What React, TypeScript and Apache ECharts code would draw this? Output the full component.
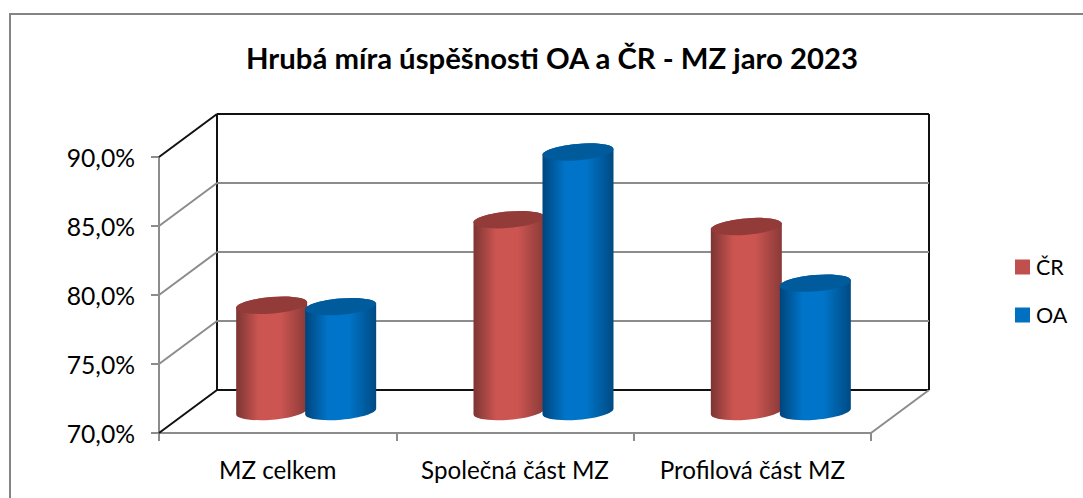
import React, { useEffect, useRef } from "react";
import * as echarts from "echarts";

const titleText = "Hrubá míra úspěšnosti OA a ČR - MZ jaro 2023";
const categories = ["MZ celkem", "Společná část MZ", "Profilová část MZ"];
const crValues = [77.7, 83.9, 83.4];
const oaValues = [77.6, 88.8, 79.3];
const yTicks = [70, 75, 80, 85, 90];

const FONT = "Lato, Carlito, Calibri, sans-serif";
const DX = 58;
const DY = -43;
const GRAY = "#8c8c8c";
const BLACK = "#111111";
const HALF_W = 35.5;
const TILT = 3;
const RY = 8.2;
const K = 0.5523;
const MAJOR = Math.sqrt(HALF_W * HALF_W + TILT * TILT);
const UX = HALF_W;
const UY = -TILT;
const VX = (RY * TILT) / MAJOR;
const VY = (RY * HALF_W) / MAJOR;

const fmt = (x: number, y: number) => `${x.toFixed(2)} ${y.toFixed(2)}`;

// From the left end of the tilted ellipse to its right end, through the bottom.
function lowerArc(cx: number, cy: number) {
  return (
    `C ${fmt(cx - UX + K * VX, cy - UY + K * VY)} ${fmt(cx + VX - K * UX, cy + VY - K * UY)} ${fmt(cx + VX, cy + VY)} ` +
    `C ${fmt(cx + VX + K * UX, cy + VY + K * UY)} ${fmt(cx + UX + K * VX, cy + UY + K * VY)} ${fmt(cx + UX, cy + UY)} `
  );
}

// From the right end of the tilted ellipse back to its left end, through the top.
function upperArc(cx: number, cy: number) {
  return (
    `C ${fmt(cx + UX - K * VX, cy + UY - K * VY)} ${fmt(cx - VX + K * UX, cy - VY + K * UY)} ${fmt(cx - VX, cy - VY)} ` +
    `C ${fmt(cx - VX - K * UX, cy - VY - K * UY)} ${fmt(cx - UX - K * VX, cy - UY - K * VY)} ${fmt(cx - UX, cy - UY)} `
  );
}

function wallsRenderItem(params: any, api: any) {
  const v = api.value(0);
  const p = api.coord([0, v]);
  const left = p[0] - (api.size([1, 0])[0] / 2);
  const right = left + api.size([1, 0])[0] * categories.length;
  const y = p[1];
  const isTop = v === yTicks[yTicks.length - 1];
  const isBottom = v === yTicks[0];
  const children: any[] = [];
  const line = (x1: number, y1: number, x2: number, y2: number, stroke: string) =>
    children.push({
      type: "line",
      shape: { x1, y1, x2, y2 },
      style: { stroke, lineWidth: 2, fill: "none" },
    });
  line(left, y, left + DX, y + DY, isTop || isBottom ? BLACK : GRAY);
  line(left + DX, y + DY, right + DX, y + DY, isTop || isBottom ? BLACK : GRAY);
  if (isBottom) {
    line(right, y, right + DX, y + DY, GRAY);
    const top = api.coord([0, yTicks[yTicks.length - 1]])[1] + DY;
    line(left + DX, y + DY, left + DX, top, BLACK);
    line(right + DX, y + DY, right + DX, top, BLACK);
  }
  return { type: "group", children };
}

function cylinder(shift: number, edgeL: string, mid: string, edgeR: string, topColor: string) {
  return (params: any, api: any) => {
    const c = api.coord([api.value(0), api.value(1)]);
    const b = api.coord([api.value(0), yTicks[0]]);
    const cx = c[0] + DX / 2 + shift;
    const topY = c[1] + DY / 2;
    const botY = b[1] + DY / 2;
    const body =
      `M ${fmt(cx - UX, topY - UY)} L ${fmt(cx - UX, botY - UY)} ` +
      lowerArc(cx, botY) +
      `L ${fmt(cx + UX, topY + UY)} ` +
      upperArc(cx, topY) +
      "Z";
    const top = `M ${fmt(cx - UX, topY - UY)} ` + lowerArc(cx, topY) + upperArc(cx, topY) + "Z";
    return {
      type: "group",
      children: [
        {
          type: "path",
          shape: { pathData: body },
          style: {
            fill: new echarts.graphic.LinearGradient(0, 0, 1, 0, [
              { offset: 0, color: edgeL },
              { offset: 0.32, color: mid },
              { offset: 0.62, color: mid },
              { offset: 1, color: edgeR },
            ]),
          },
        },
        {
          type: "path",
          shape: { pathData: top },
          style: { fill: topColor },
        },
      ],
    };
  };
}

export default function App() {
  const ref = useRef<HTMLDivElement>(null);
  useEffect(() => {
    document.body.style.margin = "0";
    const chart = echarts.init(ref.current!, null, { renderer: "svg" });
    chart.setOption({
      animation: false,
      backgroundColor: "#ffffff",
      title: {
        text: titleText,
        left: 547,
        top: 38,
        textAlign: "center",
        textStyle: { fontFamily: FONT, fontSize: 29.3, fontWeight: "bold", color: "#000000" },
      },
      legend: {
        data: [
          { name: "ČR", itemStyle: { color: "#c0504d" } },
          { name: "OA", itemStyle: { color: "#0070c0" } },
        ],
        orient: "vertical",
        left: 1010,
        top: 251,
        icon: "rect",
        itemWidth: 15,
        itemHeight: 15,
        itemGap: 26,
        textStyle: { fontFamily: FONT, fontSize: 21.5, color: "#000000", padding: [0, 0, 0, 1] },
        selectedMode: false,
      },
      grid: { left: 159, right: 212, top: 157, bottom: 65 },
      xAxis: {
        type: "category",
        data: categories,
        axisLine: { lineStyle: { color: GRAY, width: 2 } },
        axisTick: { show: true, alignWithLabel: false, length: 8, lineStyle: { color: GRAY, width: 2 } },
        axisLabel: { fontFamily: FONT, fontSize: 24.2, color: "#000000", margin: 24, interval: 0 },
      },
      yAxis: {
        type: "value",
        min: 70,
        max: 90,
        interval: 5,
        axisLine: { show: true, lineStyle: { color: GRAY, width: 2 } },
        axisTick: { show: true, length: 8, lineStyle: { color: GRAY, width: 2 } },
        splitLine: { show: false },
        axisLabel: {
          fontFamily: FONT,
          fontSize: 24.7,
          color: "#000000",
          margin: 24,
          formatter: (v: number) => v.toFixed(1).replace(".", ",") + "%",
        },
      },
      series: [
        {
          name: "walls",
          type: "custom",
          renderItem: wallsRenderItem,
          data: yTicks.map((v) => [v]),
          encode: { y: 0 },
          silent: true,
          z: 1,
        },
        {
          name: "ČR",
          type: "custom",
          renderItem: cylinder(-35, "#7c3533", "#cc5551", "#8a3a38", "#923b39"),
          data: crValues.map((v, i) => [i, v]),
          encode: { x: 0, y: 1 },
          itemStyle: { color: "#c0504d" },
          z: 3,
        },
        {
          name: "OA",
          type: "custom",
          renderItem: cylinder(34, "#00457c", "#0074c8", "#004a82", "#005b9c"),
          data: oaValues.map((v, i) => [i, v]),
          encode: { x: 0, y: 1 },
          itemStyle: { color: "#0070c0" },
          z: 4,
        },
      ],
      graphic: [
        {
          type: "polyline",
          silent: true,
          shape: { points: [[10, 498], [10, 14], [1083, 14]] },
          style: { stroke: "#848484", lineWidth: 2, fill: "none" },
        },
      ],
    });
    return () => chart.dispose();
  }, []);
  return <div ref={ref} style={{ position: "absolute", left: 0, top: 0, width: 1083, height: 498 }} />;
}
